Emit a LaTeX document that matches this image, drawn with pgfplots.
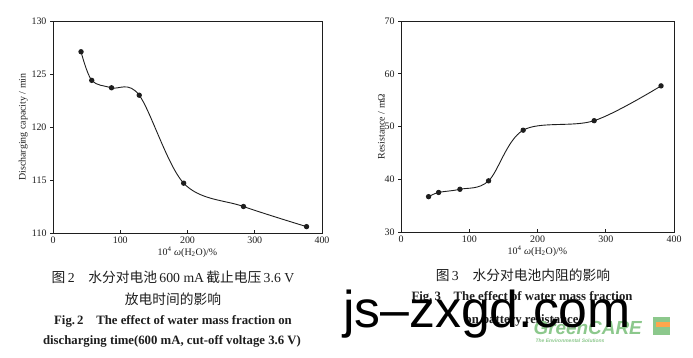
\documentclass[border=0pt]{standalone}
\usepackage{pgfplots}
\pgfplotsset{compat=1.18}
\usepackage{fontspec}
\setmainfont{Liberation Serif}
\newfontfamily\cjk{Noto Sans CJK SC}
\newfontfamily\wsans{Liberation Sans}
\definecolor{ink}{RGB}{30,30,30}
\definecolor{gc}{RGB}{140,200,140}
\begin{document}
\begin{tikzpicture}[x=1bp,y=1bp]
\useasboundingbox (0,0) rectangle (693,357);
\fill[white] (0,0) rectangle (693,357);
\pgfplotsset{
  every axis/.append style={
    scale only axis,
    axis line style={ink, line width=0.8pt},
    tick style={ink, line width=0.6pt},
    x tick label style={font=\fontsize{10}{10}\selectfont, text=ink},
    y tick label style={font=\fontsize{10}{10}\selectfont, text=ink},
    label style={font=\fontsize{10}{10}\selectfont, text=ink},
    /pgf/number format/assume math mode=true,
    xmin=0, xmax=400, xtick={0,100,200,300,400},
    xtick align=inside, ytick align=outside,
    major tick length=3bp,
    xtick pos=bottom, ytick pos=left,
    tick label style={/pgf/number format/1000 sep={}},
  }
}
\begin{axis}[at={(53bp,124bp)}, anchor=south west, width=269bp, height=212bp,
  ymin=110, ymax=130, ytick={110,115,120,125,130},
  ylabel={Discharging capacity / min},
  xlabel={10\textsuperscript{4} \textit{ω}(H\textsubscript{2}O)/\%},
  xlabel style={yshift=3bp},
  ylabel style={yshift=-3bp}]
\addplot[ink, line width=0.9pt, smooth, tension=0.55, mark=*, mark size=2.2pt, mark options={fill=ink}]
  coordinates {(41.7,127.1) (57.6,124.4) (87,123.7) (128.2,123.0) (194.3,114.7) (283.2,112.5) (377,110.6)};
\end{axis}
\begin{axis}[at={(401bp,125bp)}, anchor=south west, width=273bp, height=211bp,
  ymin=30, ymax=70, ytick={30,40,50,60,70},
  ylabel={Resistance / mΩ},
  xlabel={10\textsuperscript{4} \textit{ω}(H\textsubscript{2}O)/\%},
  xlabel style={yshift=3bp},
  ylabel style={yshift=-7bp}]
\addplot[ink, line width=0.9pt, smooth, tension=0.55, mark=*, mark size=2.2pt, mark options={fill=ink}]
  coordinates {(40.4,36.7) (55.1,37.5) (86.3,38.1) (128.3,39.7) (179,49.3) (283,51.1) (381,57.7)};
\end{axis}
% captions
\node[text=ink, font=\fontsize{13.8}{14}\selectfont] at (173,80) {{\cjk 图}\,2\quad{\cjk 水分对电池}\,600 mA\,{\cjk 截止电压}\,3.6 V};
\node[text=ink, font=\fontsize{13.8}{14}\selectfont] at (173,58) {\cjk 放电时间的影响};
\node[text=ink, font=\fontsize{12.8}{13}\selectfont\bfseries] at (173,36) {Fig.\,2\quad The effect of water mass fraction on};
\node[text=ink, font=\fontsize{12.8}{13}\selectfont\bfseries] at (172,16) {discharging time(600 mA, cut-off voltage 3.6 V)};
\node[text=ink, font=\fontsize{13.8}{14}\selectfont] at (523,82) {{\cjk 图}\,3\quad{\cjk 水分对电池内阻的影响}};
\node[text=ink, font=\fontsize{12.8}{13}\selectfont\bfseries] at (522,60) {Fig.\,3\quad The effect of water mass fraction};
\node[text=ink, font=\fontsize{12.8}{13}\selectfont\bfseries] at (522,37) {on battery resistance};
% watermarks
\node[text=gc, font=\wsans\bfseries\itshape\fontsize{19}{20}\selectfont, anchor=west] at (530,29) {GreenCARE};
\node[text=gc, font=\wsans\bfseries\itshape\fontsize{5}{6}\selectfont, anchor=west] at (532,16) {The Environmental Solutions};
\fill[gc] (653,22) rectangle (670,40);
\fill[orange!70] (656,30) rectangle (670,35);
\node[text=black, font=\wsans\fontsize{52}{52}\selectfont, anchor=center] at (487,43) {js–zxgd.com};
\end{tikzpicture}
\end{document}
